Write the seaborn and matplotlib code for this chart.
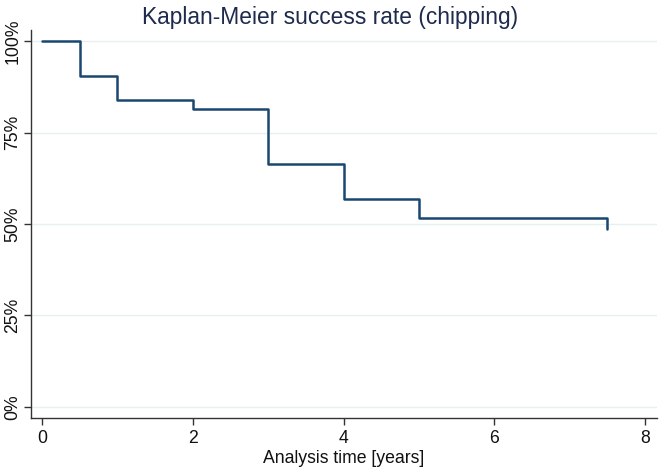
import matplotlib
matplotlib.use("Agg")
import matplotlib.pyplot as plt
import seaborn as sns
import pandas as pd
from matplotlib.ticker import FuncFormatter

sns.set_theme(style="white")
plt.rcParams['font.family'] = ['Liberation Sans', 'DejaVu Sans']

time_years = [0, 0.5, 1, 2, 3, 4, 5, 7.5]
survival = [1.0, 0.905, 0.838, 0.814, 0.665, 0.567, 0.517, 0.486]
x_ticks = [0, 2, 4, 6, 8]
y_ticks = [0, 0.25, 0.5, 0.75, 1.0]
title = "Kaplan-Meier success rate (chipping)"
x_label = "Analysis time [years]"

df = pd.DataFrame({"time": time_years, "surv": survival})

fig = plt.figure(figsize=(6.61, 4.70), dpi=100)
ax = fig.add_axes([0.047, 0.111, 0.947, 0.825])

for yt in y_ticks:
    ax.axhline(yt, color="#e6f0f2", lw=1.0, zorder=0)

sns.lineplot(data=df, x="time", y="surv", drawstyle="steps-post",
             color="#1a476f", lw=1.8, ax=ax)

ax.set_xlim(-0.146, 8.16)
ax.set_ylim(-0.03, 1.03)
ax.set_xticks(x_ticks)
ax.set_yticks(y_ticks)
ax.yaxis.set_major_formatter(FuncFormatter(lambda v, p: f"{int(round(v*100))}%"))
for lab in ax.get_yticklabels():
    lab.set_rotation(90)
    lab.set_va("center")
ax.tick_params(axis="both", which="major", direction="out", length=5, width=1,
               color="#333333", labelsize=12.7, labelcolor="#111111", pad=4,
               left=True, bottom=True)
ax.tick_params(axis="y", pad=2)
for s in ["top", "right"]:
    ax.spines[s].set_visible(False)
for s in ["left", "bottom"]:
    ax.spines[s].set_color("#333333")
    ax.spines[s].set_linewidth(1.0)

ax.set_xlabel(x_label, fontsize=12.7, color="#111111", labelpad=2)
ax.set_ylabel("")
fig.text(0.5, 0.963, title, ha="center", va="center", fontsize=16.4, color="#1e2b4d")

fig.savefig("out.png", dpi=100)
